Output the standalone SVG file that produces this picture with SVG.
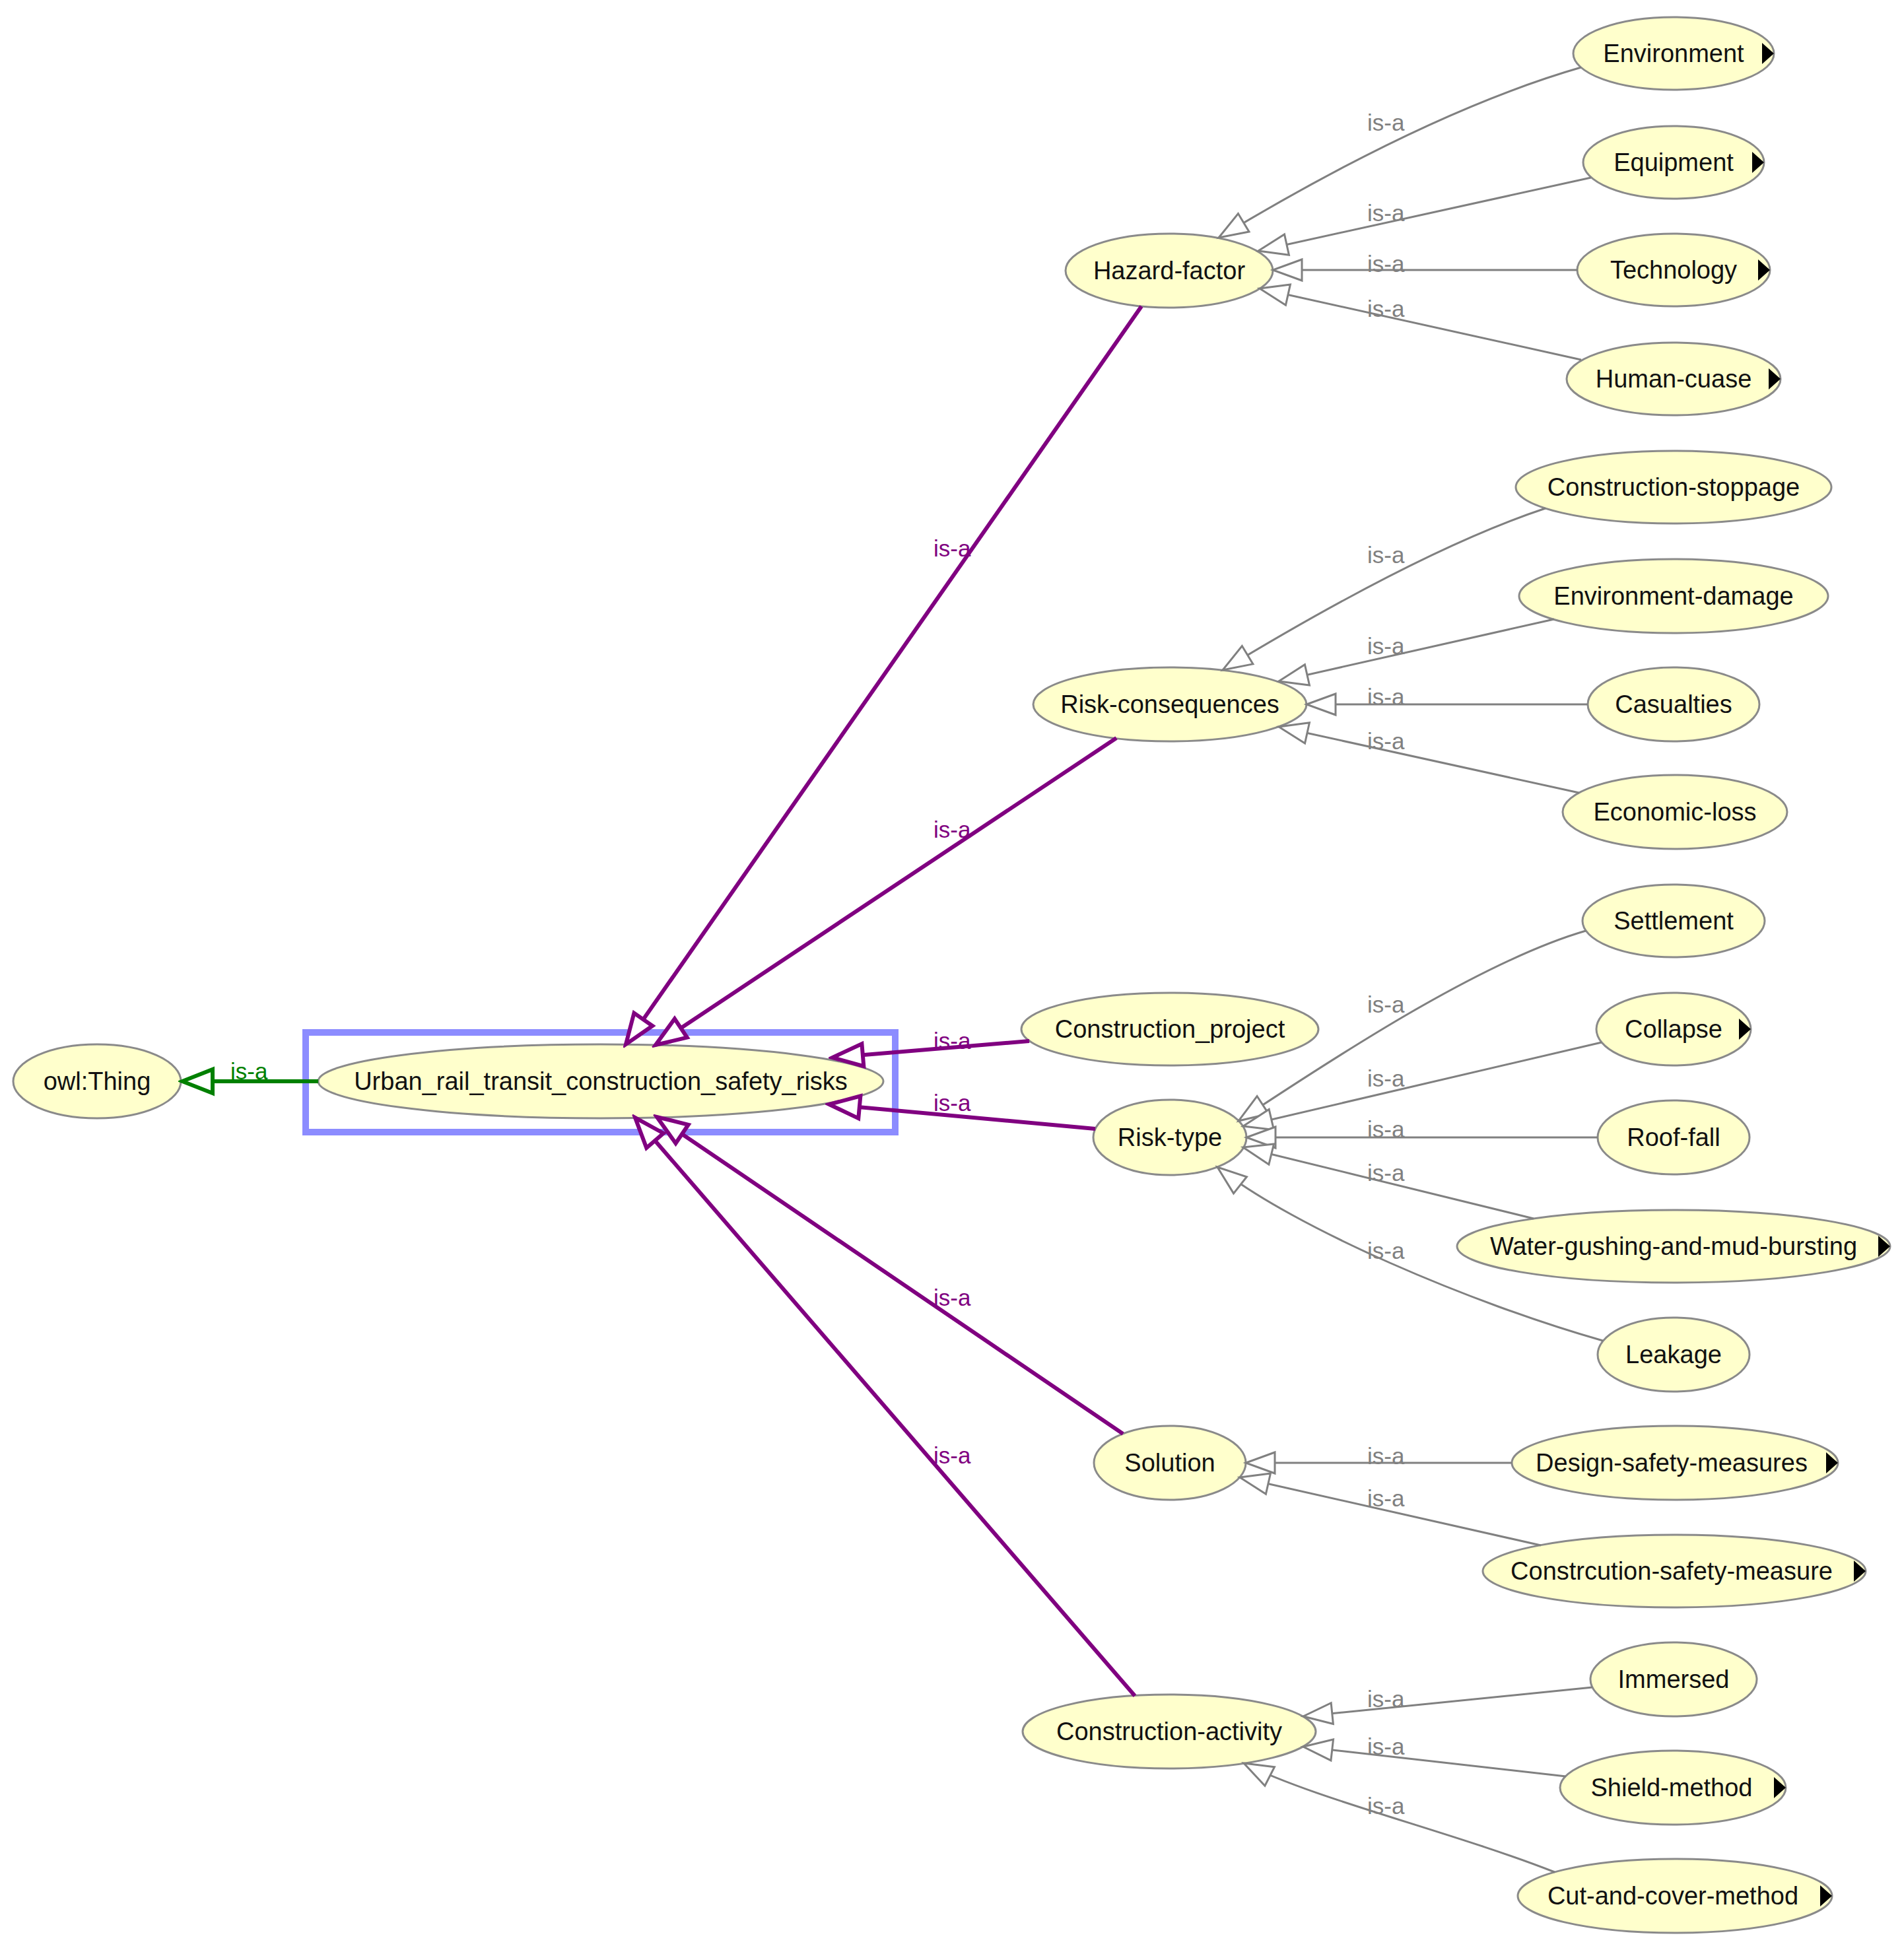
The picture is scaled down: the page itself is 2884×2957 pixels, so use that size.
<svg xmlns="http://www.w3.org/2000/svg" width="2884" height="2957" viewBox="0 0 2884 2957">
<style>
.n ellipse{fill:#ffffcc;stroke:#8a8a8a;stroke-width:3}
.n text{font-family:"Liberation Sans",Arial,sans-serif;font-size:38px;fill:#111;text-anchor:middle}
.n polygon{fill:#000}
.g{fill:none;stroke:#808080;stroke-width:3;marker-end:url(#ag)}
.p{fill:none;stroke:#800080;stroke-width:6;marker-end:url(#ap)}
.gr{fill:none;stroke:#008000;stroke-width:6;marker-end:url(#agr)}
.l{font-family:"Liberation Sans",Arial,sans-serif;font-size:35px}
.lg{fill:#808080}
.lp{fill:#800080}
.lgr{fill:#008000}
</style>
<defs>
<marker id="ag" viewBox="-5 -5 54 42" refX="44" refY="16" markerWidth="54" markerHeight="42" markerUnits="userSpaceOnUse" orient="auto"><path d="M0,0 L44,16 L0,32 Z" fill="#fff" stroke="#808080" stroke-width="3"/></marker>
<marker id="ap" viewBox="-6 -6 58 46" refX="46" refY="17" markerWidth="58" markerHeight="46" markerUnits="userSpaceOnUse" orient="auto"><path d="M0,0 L46,17 L0,34 Z" fill="#fff" stroke="#800080" stroke-width="6"/></marker>
<marker id="agr" viewBox="-6 -6 58 50" refX="46" refY="18" markerWidth="58" markerHeight="50" markerUnits="userSpaceOnUse" orient="auto"><path d="M0,0 L46,18 L0,36 Z" fill="#fff" stroke="#008000" stroke-width="6"/></marker>
</defs>
<rect width="2884" height="2957" fill="#fff"/>
<rect id="selection" x="463" y="1564" width="893" height="151" fill="none" stroke="#8c8cff" stroke-width="10"/>

<g id="n-owlThing" class="n"><ellipse cx="147" cy="1638" rx="127" ry="56"/><text x="147" y="1651">owl:Thing</text></g>
<g id="n-urban" class="n"><ellipse cx="910" cy="1638" rx="428" ry="56"/><text x="910" y="1651">Urban_rail_transit_construction_safety_risks</text></g>

<g id="n-hazard" class="n"><ellipse cx="1771" cy="410" rx="157" ry="56"/><text x="1771" y="423">Hazard-factor</text></g>
<g id="n-environment" class="n"><ellipse cx="2535" cy="81" rx="152" ry="55"/><text x="2535" y="94">Environment</text><polygon points="2669,65 2687,81 2669,97"/></g>
<g id="n-equipment" class="n"><ellipse cx="2535" cy="246" rx="137" ry="55"/><text x="2535" y="259">Equipment</text><polygon points="2654,230 2672,246 2654,262"/></g>
<g id="n-technology" class="n"><ellipse cx="2535" cy="409" rx="146" ry="55"/><text x="2535" y="422">Technology</text><polygon points="2663,393 2681,409 2663,425"/></g>
<g id="n-human" class="n"><ellipse cx="2535" cy="574" rx="162" ry="55"/><text x="2535" y="587">Human-cuase</text><polygon points="2679,558 2697,574 2679,590"/></g>

<g id="n-riskcons" class="n"><ellipse cx="1772" cy="1067" rx="207" ry="56"/><text x="1772" y="1080">Risk-consequences</text></g>
<g id="n-stoppage" class="n"><ellipse cx="2535" cy="738" rx="239" ry="55"/><text x="2535" y="751">Construction-stoppage</text></g>
<g id="n-envdamage" class="n"><ellipse cx="2535" cy="903" rx="234" ry="56"/><text x="2535" y="916">Environment-damage</text></g>
<g id="n-casualties" class="n"><ellipse cx="2535" cy="1067" rx="130" ry="56"/><text x="2535" y="1080">Casualties</text></g>
<g id="n-economic" class="n"><ellipse cx="2537" cy="1230" rx="170" ry="56"/><text x="2537" y="1243">Economic-loss</text></g>

<g id="n-project" class="n"><ellipse cx="1772" cy="1559" rx="225" ry="55"/><text x="1772" y="1572">Construction_project</text></g>

<g id="n-risktype" class="n"><ellipse cx="1772" cy="1723" rx="116" ry="57"/><text x="1772" y="1736">Risk-type</text></g>
<g id="n-settlement" class="n"><ellipse cx="2535" cy="1395" rx="138" ry="55"/><text x="2535" y="1408">Settlement</text></g>
<g id="n-collapse" class="n"><ellipse cx="2535" cy="1559" rx="117" ry="55"/><text x="2535" y="1572">Collapse</text><polygon points="2634,1543 2652,1559 2634,1575"/></g>
<g id="n-rooffall" class="n"><ellipse cx="2535" cy="1723" rx="115" ry="56"/><text x="2535" y="1736">Roof-fall</text></g>
<g id="n-water" class="n"><ellipse cx="2535" cy="1888" rx="328" ry="55"/><text x="2535" y="1901">Water-gushing-and-mud-bursting</text><polygon points="2845,1872 2863,1888 2845,1904"/></g>
<g id="n-leakage" class="n"><ellipse cx="2535" cy="2052" rx="115" ry="56"/><text x="2535" y="2065">Leakage</text></g>

<g id="n-solution" class="n"><ellipse cx="1772" cy="2216" rx="115" ry="56"/><text x="1772" y="2229">Solution</text></g>
<g id="n-design" class="n"><ellipse cx="2537" cy="2216" rx="247" ry="56"/><text x="2532" y="2229">Design-safety-measures</text><polygon points="2766,2200 2784,2216 2766,2232"/></g>
<g id="n-constrsafety" class="n"><ellipse cx="2536" cy="2380" rx="290" ry="55"/><text x="2532" y="2393">Constrcution-safety-measure</text><polygon points="2808,2364 2826,2380 2808,2396"/></g>

<g id="n-activity" class="n"><ellipse cx="1771" cy="2623" rx="222" ry="56"/><text x="1771" y="2636">Construction-activity</text></g>
<g id="n-immersed" class="n"><ellipse cx="2535" cy="2544" rx="126" ry="56"/><text x="2535" y="2557">Immersed</text></g>
<g id="n-shield" class="n"><ellipse cx="2534" cy="2708" rx="171" ry="56"/><text x="2532" y="2721">Shield-method</text><polygon points="2687,2692 2705,2708 2687,2724"/></g>
<g id="n-cutcover" class="n"><ellipse cx="2537" cy="2872" rx="238" ry="56"/><text x="2534" y="2885">Cut-and-cover-method</text><polygon points="2757,2856 2775,2872 2757,2888"/></g>

<g id="connectors">
<path class="gr" d="M482 1638 L276 1638"/>
<path class="p" d="M1729 464 L948 1582"/>
<path class="p" d="M1691 1118 L993 1583"/>
<path class="p" d="M1559 1577 L1261 1602"/>
<path class="p" d="M1659 1710 L1256 1673"/>
<path class="p" d="M1701 2172 L995 1692"/>
<path class="p" d="M1719 2569 L962 1693"/>

<path class="g" d="M2395 102 Q2163 169 1846 360"/>
<path class="g" d="M2410 269 L1906 380"/>
<path class="g" d="M2390 409 L1928 409"/>
<path class="g" d="M2395 545 L1908 437"/>

<path class="g" d="M2341 770 Q2154 832 1852 1015"/>
<path class="g" d="M2354 938 L1937 1032"/>
<path class="g" d="M2405 1067 L1979 1067"/>
<path class="g" d="M2392 1201 L1937 1101"/>

<path class="g" d="M2402 1410 C2230 1460 1980 1630 1876 1698"/>
<path class="g" d="M2426 1579 L1883 1706"/>
<path class="g" d="M2420 1723 L1888 1723"/>
<path class="g" d="M2323 1846 L1883 1738"/>
<path class="g" d="M2428 2031 C2230 1975 1960 1860 1844 1768"/>

<path class="g" d="M2290 2216 L1887 2216"/>
<path class="g" d="M2334 2341 L1878 2238"/>

<path class="g" d="M2412 2556 L1974 2600"/>
<path class="g" d="M2372 2691 L1974 2646"/>
<path class="g" d="M2355 2836 C2200 2775 1990 2725 1884 2671"/>

<text class="l lgr" x="349" y="1635">is-a</text>
<text class="l lp" x="1414" y="843">is-a</text>
<text class="l lp" x="1414" y="1269">is-a</text>
<text class="l lp" x="1414" y="1589">is-a</text>
<text class="l lp" x="1414" y="1683">is-a</text>
<text class="l lp" x="1414" y="1978">is-a</text>
<text class="l lp" x="1414" y="2217">is-a</text>

<text class="l lg" x="2071" y="198">is-a</text>
<text class="l lg" x="2071" y="335">is-a</text>
<text class="l lg" x="2071" y="412">is-a</text>
<text class="l lg" x="2071" y="480">is-a</text>
<text class="l lg" x="2071" y="853">is-a</text>
<text class="l lg" x="2071" y="991">is-a</text>
<text class="l lg" x="2071" y="1068">is-a</text>
<text class="l lg" x="2071" y="1135">is-a</text>
<text class="l lg" x="2071" y="1534">is-a</text>
<text class="l lg" x="2071" y="1646">is-a</text>
<text class="l lg" x="2071" y="1723">is-a</text>
<text class="l lg" x="2071" y="1789">is-a</text>
<text class="l lg" x="2071" y="1907">is-a</text>
<text class="l lg" x="2071" y="2218">is-a</text>
<text class="l lg" x="2071" y="2282">is-a</text>
<text class="l lg" x="2071" y="2586">is-a</text>
<text class="l lg" x="2071" y="2658">is-a</text>
<text class="l lg" x="2071" y="2748">is-a</text>
</g>
</svg>
